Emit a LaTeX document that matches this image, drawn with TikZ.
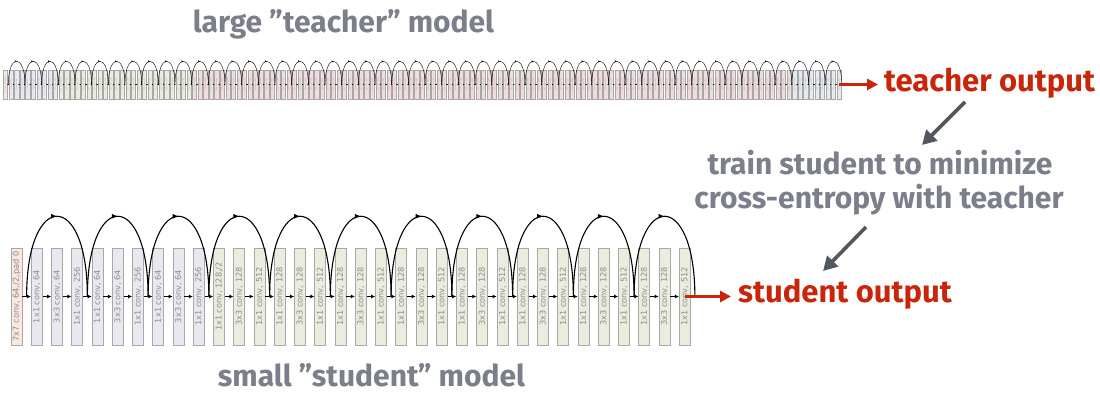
\documentclass[tikz,border=0pt]{standalone}
\usepackage{fontspec}
\setmainfont{Fira Sans}
\newfontfamily\blockfont{DejaVu Sans}
\usetikzlibrary{arrows.meta,decorations.markings}
\definecolor{txtgray}{HTML}{7B7F8B}
\definecolor{outred}{HTML}{C8250A}
\definecolor{arrgray}{HTML}{53575E}
\definecolor{stemfill}{HTML}{F8E8DE}
\definecolor{lavfill}{HTML}{E9E8F1}
\definecolor{grnfill}{HTML}{E9EDDD}
\definecolor{pinkfill}{HTML}{F1DDDD}
\definecolor{bluefill}{HTML}{E6EAF1}
\definecolor{blockline}{HTML}{A8A8A8}
\definecolor{blocktext}{HTML}{8C8C8C}
\newcommand\setblock[4]{%
  \ifnum#1=0 \def\fc{stemfill}\def\labtext{7x7 conv, 64,/2,pad 0}\else
    \ifnum#1>#4 \def\fc{bluefill}\def\w{512}\def\st{#4}%
    \else\ifnum#1>#3 \def\fc{pinkfill}\def\w{256}\def\st{#3}%
    \else\ifnum#1>#2 \def\fc{grnfill}\def\w{128}\def\st{#2}%
    \else \def\fc{lavfill}\def\w{64}\def\st{0}\fi\fi\fi
    \pgfmathtruncatemacro\p{mod(#1-1,3)}%
    \def\suf{}%
    \ifnum#1=\numexpr\st+1\relax \ifnum\st>0 \def\suf{,/2}\fi\fi
    \edef\labtext{\ifcase\p\relax 1x1 conv, \w\suf\or 3x3 conv, \w\or 1x1 conv, \the\numexpr4*\w\relax\fi}%
  \fi}
\begin{document}
\begin{tikzpicture}[x=1pt,y=-1pt,
  sblock/.style={draw=blockline,line width=0.8pt,rotate=90,minimum width=97pt,minimum height=11pt,inner sep=0pt,text=blocktext,font=\blockfont\fontsize{8.2}{8.2}\selectfont},
  tblock/.style={draw=blockline,line width=0.3pt,rotate=90,minimum width=29pt,minimum height=4.2pt,inner sep=0pt,text=blocktext,font=\blockfont\fontsize{1.6}{1.6}\selectfont},
  sflow/.style={-{Latex[length=4pt,width=4pt]},line width=0.8pt,black},
  tflow/.style={-{Latex[length=1.2pt,width=1.5pt]},line width=0.35pt,black},
  sarc/.style={line width=1.1pt,decoration={markings,mark=at position 0.5 with {\arrow{Latex[length=6pt,width=5pt]}}},postaction={decorate}},
  tarc/.style={line width=0.4pt,decoration={markings,mark=at position 0.5 with {\arrow{Latex[length=1.8pt,width=1.8pt]}}},postaction={decorate}},
  title/.style={font=\bfseries\fontsize{30}{30}\selectfont,text=txtgray,inner sep=0pt},
  outlab/.style={font=\bfseries\fontsize{31}{31}\selectfont,text=outred,inner ysep=0pt},
  redarrow/.style={-{Triangle[length=11pt,width=11pt]},line width=3pt,outred},
  grayarrow/.style={-{Triangle[length=14pt,width=15pt]},line width=3.6pt,arrgray}]
\fill[white] (0,0) rectangle (1100,401);
\useasboundingbox (0,0) rectangle (1100,401);
% titles
\node[title,anchor=base] (ttitle) at (343.5,33) {large ”teacher” model};
\node[title,anchor=base] (stitle) at (371.5,386.5) {small ”student” model};
\node[title,anchor=base] (mid1) at (880,175) {train student to minimize};
\node[title,anchor=base] (mid2) at (879,208) {cross-entropy with teacher};
% teacher
\foreach \i in {0,...,150}{
  \setblock{\i}{9}{33}{141}
  \pgfmathsetmacro\x{5.5+5.557*\i}
  \node[tblock,fill=\fc] (t\i) at (\x,84.5) {\labtext};
}
\foreach \k in {0,3,...,150}{
  \pgfmathsetmacro\x{5.5+5.557*\k+2.78}
  \coordinate (tj\k) at (\x,84.5);
}
\foreach \i [evaluate=\i as \n using int(\i+1)] in {0,...,149}
  \draw[tflow] (t\i.south) -- (t\n.north);
\foreach \j [evaluate=\j as \a using int(3*\j), evaluate=\j as \b using int(3*\j+3)] in {0,...,49}
  \draw[tarc] (tj\a) .. controls +(0,-31) and +(0,-31) .. (tj\b);
% student
\foreach \i in {0,...,33}{
  \setblock{\i}{9}{999}{9999}
  \pgfmathsetmacro\x{16.5+20.25*\i}
  \node[sblock,fill=\fc] (s\i) at (\x,296.5) {\labtext};
}
\foreach \k in {0,3,...,33}{
  \pgfmathsetmacro\x{16.5+20.25*\k+10.125}
  \coordinate (sj\k) at (\x,296.5);
}
\foreach \i [evaluate=\i as \n using int(\i+1)] in {0,...,32}
  \draw[sflow] (s\i.south) -- (s\n.north);
\foreach \j [evaluate=\j as \a using int(3*\j), evaluate=\j as \b using int(3*\j+3)] in {0,...,10}
  \draw[sarc] (sj\a) .. controls +(0,-107) and +(0,-107) .. (sj\b);
% outputs
\node[outlab,anchor=base west,inner xsep=6pt] (tout) at (878,92) {teacher output};
\node[outlab,anchor=base west,inner xsep=7pt] (sout) at (731,302) {student output};
\draw[redarrow] (t150.center) -- (t150.center -| tout.west);
\draw[redarrow] (s33.center) -- (s33.center -| sout.west);
% gray arrows
\coordinate (g1s) at (965,102);
\coordinate (g1e) at (922,145);
\coordinate (g2s) at (866,227);
\coordinate (g2e) at (823,271);
\draw[grayarrow] (g1s) -- (g1e);
\draw[grayarrow] (g2s) -- (g2e);
\end{tikzpicture}
\end{document}
